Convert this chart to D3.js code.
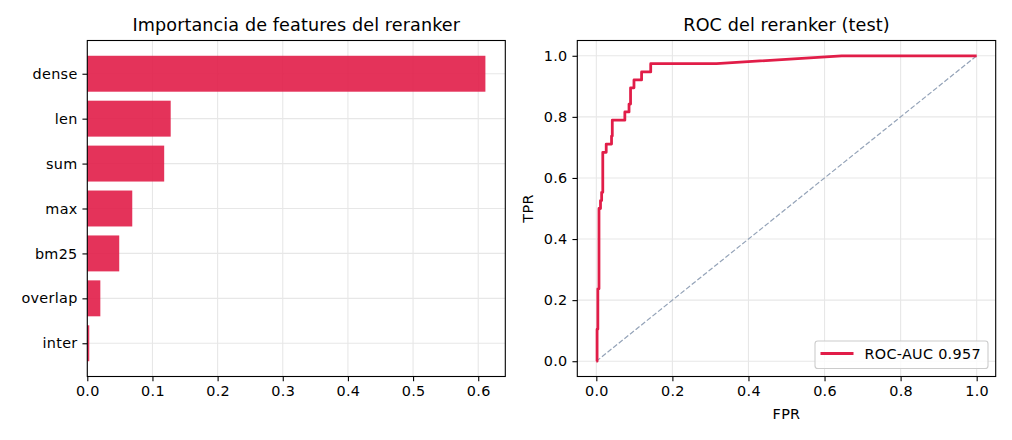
<!DOCTYPE html>
<html>
<head>
<meta charset="utf-8">
<script src="https://cdn.jsdelivr.net/npm/d3@7"></script>
<style>
  body { margin: 0; background: #fff; }
  text { font-family: "DejaVu Sans", sans-serif; fill: #000; }
</style>
</head>
<body>
<svg id="chart" width="1012" height="440"></svg>
<script>
// feature importances (top to bottom)
var features = ["dense", "len", "sum", "max", "bm25", "overlap", "inter"];
var importance = [0.611, 0.128, 0.118, 0.069, 0.049, 0.020, 0.003];
var impTicks = [0, 0.1, 0.2, 0.3, 0.4, 0.5, 0.6];

// ROC curve of the reranker on test
var fpr = [0, 0.002, 0.002, 0.004, 0.004, 0.007, 0.007, 0.011, 0.011, 0.014, 0.014, 0.017, 0.017,
           0.026, 0.026, 0.040, 0.040, 0.042, 0.042, 0.075, 0.075, 0.086, 0.086, 0.090, 0.090,
           0.099, 0.099, 0.119, 0.119, 0.143, 0.143, 0.316, 0.645, 1.0];
var tpr = [0, 0, 0.105, 0.105, 0.237, 0.237, 0.500, 0.500, 0.526, 0.526, 0.553, 0.553, 0.684,
           0.684, 0.711, 0.711, 0.737, 0.737, 0.789, 0.789, 0.816, 0.816, 0.842, 0.842, 0.895,
           0.895, 0.921, 0.921, 0.947, 0.947, 0.974, 0.974, 1.0, 1.0];
var rocTicks = [0, 0.2, 0.4, 0.6, 0.8, 1.0];
var aucLabel = "ROC-AUC 0.957";

var red = "#e11d48";
var gridColor = "#e7e7e7";
var tickLen = 4.86, tickPad = 4.86;
var fs = "14.4px", ls = "0.3px";

var svg = d3.select("#chart");
// note: "top" is taken by window.top, so use other names
var axTop = 40.5, axBot = 376.5;

function styleAxis(g) {
  g.select(".domain").remove();
  g.selectAll(".tick line").attr("stroke", "#000").attr("stroke-width", 1.1);
  g.selectAll(".tick text").style("font-size", fs).style("letter-spacing", ls).attr("fill", "#000");
}

// ---------- left: feature importance ----------
var L = {left: 87.3, right: 505.3};
var x1 = d3.scaleLinear().domain([0, d3.max(importance) * 1.05]).range([L.left, L.right]);
var y1 = d3.scaleLinear().domain([-0.74, features.length - 1 + 0.74]).range([axTop, axBot]);

var g1 = svg.append("g");
g1.selectAll("line.vg").data(impTicks).enter().append("line")
  .attr("x1", d => x1(d)).attr("x2", d => x1(d))
  .attr("y1", axTop).attr("y2", axBot)
  .attr("stroke", gridColor).attr("stroke-width", 1.1);
g1.selectAll("line.hg").data(features).enter().append("line")
  .attr("x1", L.left).attr("x2", L.right)
  .attr("y1", (d, i) => y1(i)).attr("y2", (d, i) => y1(i))
  .attr("stroke", gridColor).attr("stroke-width", 1.1);

g1.selectAll("rect.bar").data(importance).enter().append("rect")
  .attr("x", x1(0))
  .attr("y", (d, i) => y1(i - 0.4))
  .attr("width", d => x1(d) - x1(0))
  .attr("height", y1(0.4) - y1(-0.4))
  .attr("fill", red).attr("fill-opacity", 0.9);

g1.append("g").attr("transform", "translate(0," + axBot + ")")
  .call(d3.axisBottom(x1).tickValues(impTicks).tickFormat(d3.format(".1f"))
    .tickSizeOuter(0).tickSize(tickLen).tickPadding(tickPad))
  .call(styleAxis);
g1.append("g").attr("transform", "translate(" + L.left + ",0)")
  .call(d3.axisLeft(d3.scaleOrdinal().domain(features).range(features.map((d, i) => y1(i))))
    .tickSize(tickLen).tickPadding(tickPad))
  .call(styleAxis);

g1.append("rect").attr("x", L.left).attr("y", axTop)
  .attr("width", L.right - L.left).attr("height", axBot - axTop)
  .attr("fill", "none").attr("stroke", "#000").attr("stroke-width", 1.1);

g1.append("text").attr("x", (L.left + L.right) / 2).attr("y", 30.7)
  .attr("text-anchor", "middle").style("font-size", "17.6px").style("letter-spacing", "0.1px")
  .text("Importancia de features del reranker");

// ---------- right: ROC ----------
var R = {left: 577.3, right: 995.7};
var x2 = d3.scaleLinear().domain([-0.05, 1.05]).range([R.left, R.right]);
var y2 = d3.scaleLinear().domain([-0.05, 1.05]).range([axBot, axTop]);

var g2 = svg.append("g");
g2.selectAll("line.vg").data(rocTicks).enter().append("line")
  .attr("x1", d => x2(d)).attr("x2", d => x2(d))
  .attr("y1", axTop).attr("y2", axBot)
  .attr("stroke", gridColor).attr("stroke-width", 1.1);
g2.selectAll("line.hg").data(rocTicks).enter().append("line")
  .attr("x1", R.left).attr("x2", R.right)
  .attr("y1", d => y2(d)).attr("y2", d => y2(d))
  .attr("stroke", gridColor).attr("stroke-width", 1.1);

// chance diagonal
g2.append("line")
  .attr("x1", x2(0)).attr("y1", y2(0)).attr("x2", x2(1)).attr("y2", y2(1))
  .attr("stroke", "#94a3b8").attr("stroke-width", 1.2)
  .attr("stroke-dasharray", "5,2.2");

var rocLine = d3.line().x(d => x2(d[0])).y(d => y2(d[1]));
g2.append("path").datum(fpr.map((f, i) => [f, tpr[i]]))
  .attr("d", rocLine)
  .attr("fill", "none").attr("stroke", red).attr("stroke-width", 2.78)
  .attr("stroke-linejoin", "round");

g2.append("g").attr("transform", "translate(0," + axBot + ")")
  .call(d3.axisBottom(x2).tickValues(rocTicks).tickFormat(d3.format(".1f"))
    .tickSizeOuter(0).tickSize(tickLen).tickPadding(tickPad))
  .call(styleAxis);
g2.append("g").attr("transform", "translate(" + R.left + ",0)")
  .call(d3.axisLeft(y2).tickValues(rocTicks).tickFormat(d3.format(".1f"))
    .tickSizeOuter(0).tickSize(tickLen).tickPadding(tickPad))
  .call(styleAxis);

g2.append("rect").attr("x", R.left).attr("y", axTop)
  .attr("width", R.right - R.left).attr("height", axBot - axTop)
  .attr("fill", "none").attr("stroke", "#000").attr("stroke-width", 1.1);

g2.append("text").attr("x", (R.left + R.right) / 2).attr("y", 30.7)
  .attr("text-anchor", "middle").style("font-size", "17.6px").style("letter-spacing", "0.1px")
  .text("ROC del reranker (test)");
g2.append("text").attr("x", (R.left + R.right) / 2).attr("y", 419)
  .attr("text-anchor", "middle").style("font-size", fs).style("letter-spacing", ls).text("FPR");
g2.append("text")
  .attr("transform", "translate(533," + (axTop + axBot) / 2 + ") rotate(-90)")
  .attr("text-anchor", "middle").style("font-size", fs).style("letter-spacing", ls).text("TPR");

// legend
var lg = g2.append("g");
lg.append("rect").attr("x", 815).attr("y", 341).attr("width", 173).attr("height", 27.5)
  .attr("rx", 2.8).attr("fill", "#fff").attr("fill-opacity", 0.8)
  .attr("stroke", "#cccccc").attr("stroke-width", 1.1);
lg.append("line").attr("x1", 820.5).attr("x2", 853.5).attr("y1", 353.5).attr("y2", 353.5)
  .attr("stroke", red).attr("stroke-width", 2.78);
lg.append("text").attr("x", 864.5).attr("y", 358.7)
  .style("font-size", fs).style("letter-spacing", ls).text(aucLabel);
</script>
</body>
</html>
